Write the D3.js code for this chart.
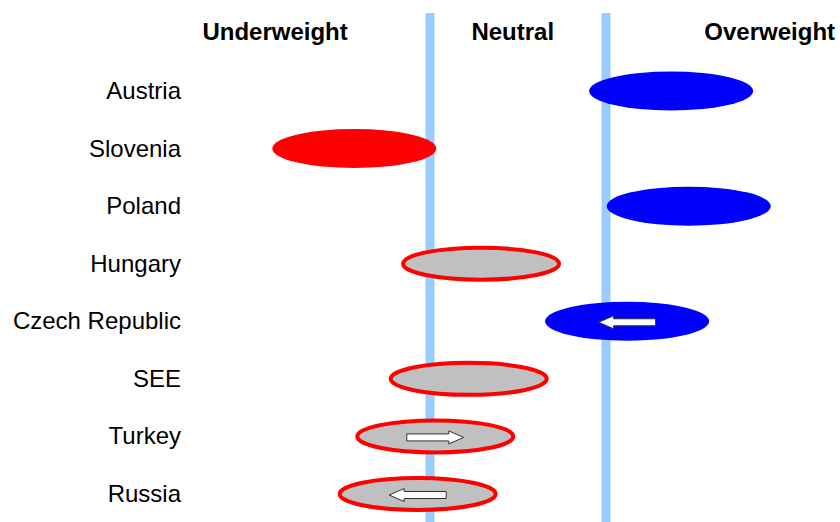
<!DOCTYPE html>
<html>
<head>
<meta charset="utf-8">
<script src="https://cdn.jsdelivr.net/npm/d3@7"></script>
<style>
  html, body { margin: 0; padding: 0; background: #fff; }
  svg { display: block; }
  text { font-family: "Liberation Sans", Arial, sans-serif; fill: #000; }
</style>
</head>
<body>
<div id="chart"></div>
<script>
// Country allocation stance: 0-1 underweight, 1-2 neutral, 2-3 overweight
const countries = ["Austria", "Slovenia", "Poland", "Hungary", "Czech Republic", "SEE", "Turkey", "Russia"];
const stance = [2.37, 0.57, 2.47, 1.29, 2.12, 1.22, 1.03, 0.93];
const rating = ["over", "under", "over", "neutral", "over", "neutral", "neutral", "neutral"];
const trend = [null, null, null, null, "left", null, "right", "left"];
const headers = ["Underweight", "Neutral", "Overweight"];
const headerAt = [0.12, 1.47, 2.93];
const boundaries = [1, 2];

const W = 840, H = 522;
const svg = d3.select("#chart").append("svg").attr("width", W).attr("height", H);

const x = d3.scaleLinear().domain([1, 2]).range([430, 606]);
const y = d3.scalePoint().domain(countries).range([91, 494]);

const fills = { over: "#0000ff", under: "#ff0000", neutral: "#c0c0c0" };

// Zone boundaries
svg.selectAll("rect.zone").data(boundaries).join("rect")
  .attr("class", "zone")
  .attr("x", d => x(d) - 4.5).attr("y", 13)
  .attr("width", 9).attr("height", H - 13)
  .attr("fill", "#99ccff");

// Zone headers
svg.selectAll("text.head").data(headers).join("text")
  .attr("class", "head")
  .attr("x", (d, i) => x(headerAt[i]))
  .attr("y", 40)
  .attr("text-anchor", "middle")
  .attr("font-size", 24)
  .attr("font-weight", "bold")
  .text(d => d);

// Country labels
svg.selectAll("text.country").data(countries).join("text")
  .attr("class", "country")
  .attr("x", 181)
  .attr("y", d => y(d) + 8)
  .attr("text-anchor", "end")
  .attr("font-size", 24)
  .text(d => d);

const rows = countries.map((c, i) => ({ c, v: stance[i], r: rating[i], t: trend[i] }));

// Position markers
svg.selectAll("ellipse.pos").data(rows).join("ellipse")
  .attr("class", "pos")
  .attr("cx", d => x(d.v))
  .attr("cy", d => y(d.c))
  .attr("rx", d => d.r === "neutral" ? 78 : 82)
  .attr("ry", d => d.r === "neutral" ? 16 : 19.5)
  .attr("fill", d => fills[d.r])
  .attr("stroke", d => d.r === "neutral" ? "#ff0000" : "none")
  .attr("stroke-width", 4);

// Trend arrows
function arrowPath(dir) {
  const len = 57, hl = 15, sh = 3.5, hh = 6.5;
  const a = -len / 2, b = len / 2;
  const pts = [[a, -sh], [b - hl, -sh], [b - hl, -hh], [b, 0], [b - hl, hh], [b - hl, sh], [a, sh]];
  const s = dir === "left" ? -1 : 1;
  return "M" + pts.map(p => [p[0] * s, p[1]].join(",")).join("L") + "Z";
}
svg.selectAll("path.trend").data(rows.filter(d => d.t)).join("path")
  .attr("class", "trend")
  .attr("transform", d => `translate(${x(d.v)},${y(d.c) + 1})`)
  .attr("d", d => arrowPath(d.t))
  .attr("fill", "#fff")
  .attr("stroke", "#333")
  .attr("stroke-width", 1);
</script>
</body>
</html>
